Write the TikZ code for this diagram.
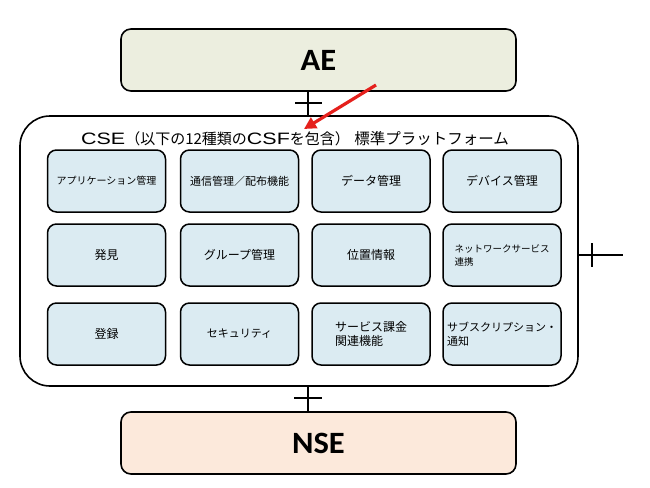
\documentclass[tikz,border=0pt]{standalone}
\usepackage{fontspec}
\setmainfont{Carlito}
\newfontfamily\jp{Noto Sans CJK JP}
\newfontfamily\bigfont[FakeStretch=1.05]{Carlito Bold}
\newfontfamily\latfont[FakeStretch=1.3]{Liberation Sans}
\usetikzlibrary{arrows.meta}
\definecolor{aefill}{HTML}{ECEEDF}
\definecolor{nsefill}{HTML}{FCE9DB}
\definecolor{csffill}{HTML}{DBEBF2}
\definecolor{arrowred}{HTML}{E5201C}
\tikzset{
  bigbox/.style={draw=black, line width=1.6pt, rounded corners=10pt, minimum width=395pt, minimum height=62pt, inner sep=0pt, font=\bigfont\fontsize{31}{33}\selectfont},
  csfbox/.style={draw=black, line width=1.5pt, rounded corners=9pt, fill=csffill, minimum width=118pt, minimum height=62pt, inner sep=0pt, align=left},
  conn/.style={draw=black, line width=1.2pt},
}
\newcommand{\jpf}[1]{\jp\fontsize{#1}{#1}\selectfont}
\newcommand{\latf}{\latfont\fontsize{16.5}{18}\selectfont}
\begin{document}
\begin{tikzpicture}[x=1pt,y=-1pt]
\useasboundingbox (0,0) rectangle (650,487);
% AE and NSE
\node[bigbox, fill=aefill] (ae) at (318.5,60) {AE};
\node[bigbox, fill=nsefill] (nse) at (318.5,443) {NSE};
% CSE outer
\node[draw=black, line width=1.6pt, rounded corners=30pt, minimum width=558pt, minimum height=270pt, inner sep=0pt] (cse) at (299,251) {};
\node[anchor=base west, inner sep=0pt] (title) at (81,144) {\latf CSE\jpf{15}（以下の12種類の\latf CSF\jpf{15}を包含）\hspace{0.3em}\jpf{15.5}標準プラットフォーム};
% CSF boxes
\node[csfbox] (b11) at (106.5,181) {\jpf{10}アプリケーション管理};
\node[csfbox] (b12) at (239.5,181) {\jpf{11}通信管理／配布機能};
\node[csfbox] (b13) at (371,181) {\jpf{12}データ管理};
\node[csfbox] (b14) at (502,181) {\jpf{12}デバイス管理};
\node[csfbox] (b21) at (106.5,255) {\jpf{12}発見};
\node[csfbox] (b22) at (239.5,255) {\jpf{12}グループ管理};
\node[csfbox] (b23) at (371,255) {\jpf{12}位置情報};
\node[csfbox] (b24) at (502,255) {\jpf{9.5}ネットワークサービス\\[1pt]\jpf{9.5}連携};
\node[csfbox] (b31) at (106.5,334) {\jpf{12}登録};
\node[csfbox] (b32) at (239.5,334) {\jpf{11}セキュリティ};
\node[csfbox] (b33) at (371,334) {\jpf{12}サービス課金\\[2pt]\jpf{12}関連機能};
\node[csfbox] (b34) at (502,334) {\jpf{11}サブスクリプション・\\[2pt]\jpf{11}通知};
% connectors
\draw[conn] (ae.south -| 308,0) -- (cse.north -| 308,0);
\draw[conn] (295,103) -- (322,103);
\draw[conn] (cse.south -| 308,0) -- (nse.north -| 308,0);
\draw[conn] (294,398) -- (322,398);
\coordinate (rightend) at (623,255);
\draw[conn] (cse.east |- rightend) -- (rightend);
\draw[conn] (592,243) -- (592,267);
% red arrow
\coordinate (redstart) at (376,85);
\coordinate (redend) at (304,129);
\draw[arrowred, line width=3.2pt, -{Triangle[length=12pt,width=12pt]}] (redstart) -- (redend);
\end{tikzpicture}
\end{document}
